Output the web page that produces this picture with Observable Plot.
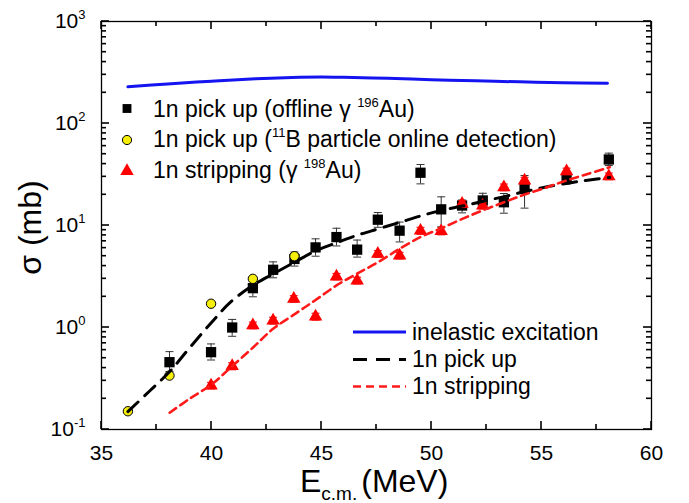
<!DOCTYPE html>
<html><head><meta charset="utf-8">
<script src="https://cdn.jsdelivr.net/npm/d3@7"></script>
<script src="https://cdn.jsdelivr.net/npm/@observablehq/plot@0.6"></script>
<style>body{margin:0;background:#fff} #chart{width:689px;height:503px}</style>
</head><body><div id="chart"></div>
<script>
// ---- tick labels ----
const xMajor = [35, 40, 45, 50, 55, 60];
const xMinor = [37.5, 42.5, 47.5, 52.5, 57.5];
const yMajor = [0.1, 1, 10, 100, 1000];
const yMinor = [0.2,0.3,0.4,0.5,0.6,0.7,0.8,0.9, 2,3,4,5,6,7,8,9, 20,30,40,50,60,70,80,90, 200,300,400,500,600,700,800,900];

// ---- inelastic excitation (calc) ----
const inelE = [36.2, 38, 40, 42, 44, 45, 46, 48, 50, 52, 54, 56, 58];
const inelV = [229, 244, 260, 274, 284, 286, 284, 277, 269, 262, 256, 251, 248];

// ---- 1n pick up (calc) ----
const pickE = [36.2, 37.2, 38.1, 39.0, 40.0, 40.9, 41.9, 42.8, 43.8, 44.7, 45.7, 46.6, 47.6, 48.6, 49.5, 50.4, 51.4, 52.3, 53.3, 54.2, 55.1, 56.2, 57.1, 58.1];
const pickV = [0.15, 0.24, 0.37, 0.63, 1.12, 1.8, 2.6, 3.35, 4.4, 5.6, 6.8, 8.0, 9.3, 10.8, 12.4, 14.0, 15.5, 17.2, 19.2, 21.4, 23.6, 26.0, 27.8, 29.6];

// ---- 1n stripping (calc) ----
const stripE = [38.1, 39.0, 40.0, 40.9, 41.9, 42.8, 43.8, 44.7, 45.7, 46.6, 47.6, 48.6, 49.5, 50.4, 51.4, 52.3, 53.3, 54.2, 55.2, 56.1, 57.1, 58.1];
const stripV = [0.146, 0.2, 0.276, 0.41, 0.64, 0.97, 1.36, 1.84, 2.6, 3.35, 4.4, 6.0, 7.7, 9.3, 11.6, 14.0, 16.9, 20.0, 23.5, 27.5, 32.0, 37.3];

// ---- 1n pick up (offline gamma 196Au) ----
const pkE  = [38.09, 39.98, 40.94, 41.88, 42.8, 43.77, 44.73, 45.68, 46.62, 47.56, 48.55, 49.5, 50.44, 51.39, 52.33, 53.29, 54.23, 56.14, 58.06];
const pkV  = [0.457, 0.573, 1.0, 2.43, 3.68, 4.7, 6.1, 7.7, 5.8, 11.4, 8.9, 32.9, 14.4, 15.7, 17.6, 16.9, 22.9, 28.7, 44.4];
const pkLo = [0.37, 0.48, 0.82, 2.0, 3.07, 4.0, 5.0, 6.3, 4.9, 9.6, 6.9, 25.6, 9.7, 13.3, 15.1, 13.2, 14.8, 25.5, 38.7];
const pkHi = [0.58, 0.69, 1.2, 2.95, 4.4, 5.5, 7.4, 9.4, 7.2, 13.4, 10.8, 39.6, 19.1, 17.8, 20.7, 20.6, 30.9, 32.0, 51.2];

// ---- 1n pick up (11B particle online detection) ----
const onE = [36.2, 38.09, 39.98, 41.88, 43.77];
const onV = [0.151, 0.338, 1.71, 3.0, 5.0];

// ---- 1n stripping (gamma 198Au) ----
const stE  = [39.98, 40.94, 41.88, 42.8, 43.74, 44.73, 45.68, 46.62, 47.56, 48.55, 49.5, 50.44, 51.39, 52.33, 53.29, 54.23, 56.14, 58.06];
const stV  = [0.27, 0.418, 1.05, 1.17, 1.91, 1.28, 3.16, 2.89, 5.27, 5.08, 8.9, 8.8, 16.3, 15.7, 23.7, 27.6, 34.0, 30.4];
const stLo = [0.25, 0.385, 0.97, 1.08, 1.77, 1.18, 2.93, 2.67, 4.88, 4.7, 8.2, 8.1, 15.1, 14.5, 21.9, 25.5, 31.5, 28.1];
const stHi = [0.29, 0.451, 1.13, 1.26, 2.05, 1.38, 3.39, 3.11, 5.66, 5.46, 9.6, 9.5, 17.5, 16.9, 25.5, 29.7, 36.5, 32.7];

const FONT = "'Liberation Sans', Arial, Helvetica, sans-serif";
const rows = (E, V, Lo, Hi) => E.map((e, i) => ({E: e, v: V[i], lo: Lo ? Lo[i] : null, hi: Hi ? Hi[i] : null}));
const inel = rows(inelE, inelV), pick = rows(pickE, pickV), strip = rows(stripE, stripV);
const pk = rows(pkE, pkV, pkLo, pkHi), on = rows(onE, onV), st = rows(stE, stV, stLo, stHi);

const cap = {draw(ctx, size) { const w = Math.sqrt(size / Math.PI); ctx.moveTo(-w, 0); ctx.lineTo(w, 0); }};
const W = 689, H = 503, ML = 101, MR = 38, MT = 21, MB = 74;
const MAJ = 8, MIN = 5, TW = 1.6;

const plot = Plot.plot({
  width: W, height: H,
  marginLeft: ML, marginRight: MR, marginTop: MT, marginBottom: MB,
  style: {fontFamily: FONT, fontSize: "21px", color: "black", background: "white", overflow: "visible"},
  x: {domain: [35, 60]},
  y: {type: "log", domain: [0.1, 1000]},
  marks: [
    Plot.frame({stroke: "black", strokeWidth: 1.3}),
    Plot.axisX({ticks: xMajor, tickSize: 0, tickPadding: 16, tickFormat: d => String(d), label: null}),
    Plot.axisY({ticks: yMajor, tickSize: 0, tickPadding: 16, tickFormat: d => String(Math.round(Math.log10(d))), label: null}),
    // 1n pick-up data (offline gamma)
    Plot.ruleX(pk, {x: "E", y1: "lo", y2: "hi", stroke: "#333", strokeWidth: 1}),
    Plot.dot(pk, {x: "E", y: "lo", symbol: cap, r: 4, stroke: "#333", strokeWidth: 1}),
    Plot.dot(pk, {x: "E", y: "hi", symbol: cap, r: 4, stroke: "#333", strokeWidth: 1}),
    Plot.dot(pk, {x: "E", y: "v", symbol: "square", r: 5.8, fill: "black"}),
    // 1n stripping data
    Plot.ruleX(st, {x: "E", y1: "lo", y2: "hi", stroke: "#e00", strokeWidth: 1}),
    Plot.dot(st, {x: "E", y: "lo", symbol: cap, r: 4, stroke: "#e00", strokeWidth: 1}),
    Plot.dot(st, {x: "E", y: "hi", symbol: cap, r: 4, stroke: "#e00", strokeWidth: 1}),
    Plot.dot(st, {x: "E", y: "v", symbol: "triangle", r: 5, fill: "#ff0000"}),
    // 11B online
    Plot.dot(on, {x: "E", y: "v", r: 4.7, fill: "#f5ee0a", stroke: "black", strokeWidth: 1}),
    // calculations
    Plot.line(inel, {x: "E", y: "v", stroke: "#1414f0", strokeWidth: 3, curve: "catmull-rom"}),
    Plot.line(pick, {x: "E", y: "v", stroke: "black", strokeWidth: 3, strokeDasharray: "14,9", curve: "catmull-rom"}),
    Plot.line(strip, {x: "E", y: "v", stroke: "#ff1a1a", strokeWidth: 2.6, strokeDasharray: "8,5", curve: "catmull-rom"})
  ]
});
document.getElementById("chart").appendChild(plot);

const svg = d3.select(plot);
// inward ticks on all four sides, placed through the plot's own scales
const sx = plot.scale("x"), sy = plot.scale("y");
const x0 = ML, x1 = W - MR, y0 = MT, y1 = H - MB;
const tg = svg.append("g").attr("stroke", "#000").attr("stroke-width", TW).attr("fill", "none");
const tickX = (vals, len) => vals.forEach(v => {
  const px = sx.apply(v);
  tg.append("path").attr("d", `M${px},${y1}V${y1 - len}`);
  tg.append("path").attr("d", `M${px},${y0}V${y0 + len}`);
});
const tickY = (vals, len) => vals.forEach(v => {
  const py = sy.apply(v);
  tg.append("path").attr("d", `M${x0},${py}H${x0 + len}`);
  tg.append("path").attr("d", `M${x1},${py}H${x1 - len}`);
});
tickX(xMajor, MAJ); tickX(xMinor, MIN); tickY(yMajor, MAJ); tickY(yMinor, MIN);

// superscripts on y tick labels
svg.selectAll('g[aria-label="y-axis tick label"] text').each(function() {
  const t = this.textContent;
  if (!t) return;
  const el = d3.select(this);
  el.text("10");
  el.append("tspan").attr("font-size", 13).attr("dy", -9).text(t);
});

const g = svg.append("g").attr("font-family", FONT).attr("fill", "black").attr("text-anchor", "start");
// axis titles
const xt = g.append("text").attr("x", 300).attr("y", 492).attr("font-size", 32);
xt.append("tspan").text("E");
xt.append("tspan").attr("font-size", 19).attr("dy", 8).text("c.m.");
xt.append("tspan").attr("dy", -8).attr("dx", 4).text("(MeV)");
g.append("text").attr("transform", "translate(41,227.5) rotate(-90)").attr("text-anchor", "middle")
  .attr("font-size", 32).text("σ (mb)");

// upper legend
const sq = d3.symbol(d3.symbolSquare, Math.PI * 5 * 5)();
const ci = d3.symbol(d3.symbolCircle, Math.PI * 4.6 * 4.6)();
const tr = d3.symbol(d3.symbolTriangle, Math.PI * 5 * 5)();
g.append("path").attr("d", sq).attr("transform", "translate(127,108.5)").attr("fill", "black");
g.append("path").attr("d", ci).attr("transform", "translate(127,140)").attr("fill", "#f5ee0a").attr("stroke", "black");
g.append("path").attr("d", tr).attr("transform", "translate(127,171)").attr("fill", "#ff0000");
const legendRows = [
  {y: 117, a: "1n pick up (offline γ ", s: "196", b: "Au)"},
  {y: 147, a: "1n pick up (", s: "11", b: "B particle online detection)"},
  {y: 178, a: "1n stripping (γ ", s: "198", b: "Au)"}
];
legendRows.forEach(r => {
  const t = g.append("text").attr("x", 153).attr("y", r.y).attr("font-size", 23);
  t.append("tspan").text(r.a);
  t.append("tspan").attr("font-size", 13).attr("dy", -10).text(r.s);
  t.append("tspan").attr("dy", 10).text(r.b);
});

// lower legend
const lower = [
  {y: 332, ty: 339.5, stroke: "#1414f0", w: 3, dash: null, label: "inelastic excitation"},
  {y: 359.5, ty: 367, stroke: "black", w: 3, dash: "14,9", label: "1n pick up"},
  {y: 386.5, ty: 394, stroke: "#ff1a1a", w: 2.6, dash: "8,5", label: "1n stripping"}
];
lower.forEach(r => {
  g.append("line").attr("x1", 353).attr("x2", 406).attr("y1", r.y).attr("y2", r.y)
    .attr("stroke", r.stroke).attr("stroke-width", r.w).attr("stroke-dasharray", r.dash);
  g.append("text").attr("x", 412).attr("y", r.ty).attr("font-size", 23).text(r.label);
});
</script>
</body></html>
